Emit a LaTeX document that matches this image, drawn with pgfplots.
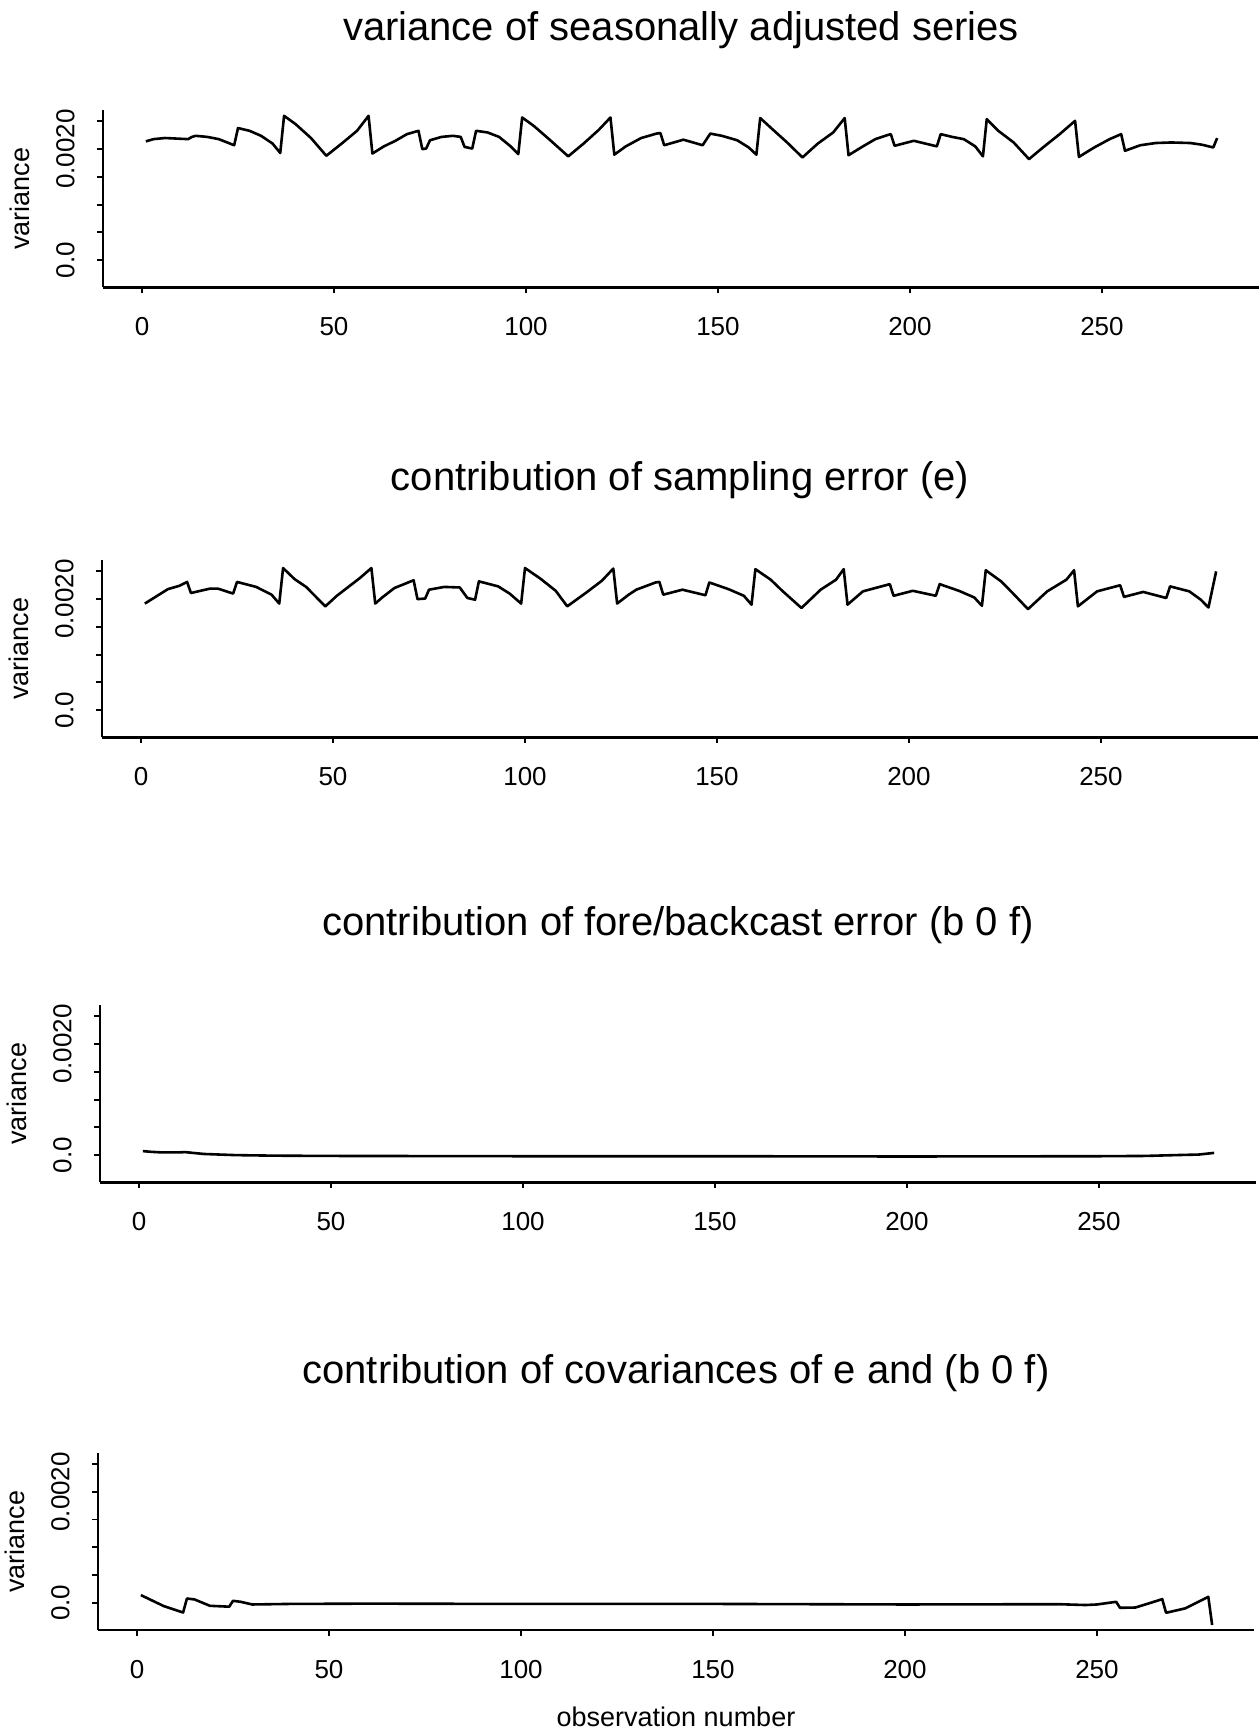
\documentclass[border=0pt]{standalone}
\usepackage{fontspec}
\setmainfont{Liberation Sans}
\usepackage{pgfplots}
\pgfplotsset{compat=1.18}
\newcommand{\tickfont}{\fontsize{13}{15}\selectfont}
\newcommand{\labfont}{\fontsize{13.5}{16}\selectfont}
\newcommand{\titfont}{\fontsize{20}{24}\selectfont}
\pgfplotsset{
  ser/.style={black, line width=1.3pt, mark=none, line join=round},
  panel/.style={
    scale only axis, width=578pt, height=88.5pt,
    xmin=-10.16, xmax=290.9, ymin=-0.00049, ymax=0.0027,
    axis lines=left, axis line style={-, line width=1.4pt},
    xtick={0,50,100,150,200,250}, xticklabels={0,50,100,150,200,250},
    ytick={0,0.0005,0.001,0.0015,0.002,0.0025}, yticklabels={0.0,,,,0.0020,},
    scaled y ticks=false, minor tick num=0,
    tick align=outside, major tick length=3pt,
    tick style={line width=0.9pt, black},
    xticklabel style={font=\tickfont, anchor=north, inner sep=0pt},
    xticklabel shift=12pt,
    yticklabel style={font=\tickfont, rotate=90, anchor=south, inner sep=0pt},
    yticklabel shift=11pt,
    ylabel={variance},
    ylabel style={at={(axis description cs:-0.0721,0.5)}, anchor=center, font=\labfont},
    title style={at={(axis description cs:0.5,1)}, anchor=center, yshift=34pt, font=\titfont},
    clip=false,
  }
}
\begin{document}
\begin{tikzpicture}
\useasboundingbox (0,0) rectangle (629.5pt,865pt);
% Panel 1
\begin{axis}[panel, at={(51.5pt,721.35pt)}, anchor=south west,
  title={variance of seasonally adjusted series}]
\addplot[ser] coordinates {
(1,0.00214)(3,0.00218)(6,0.00220)(9,0.00219)(12,0.00218)(13,0.00222)(14,0.00224)
(17,0.00222)(20,0.00218)(24,0.00207)(25,0.00238)(28,0.00233)(31,0.00224)(34,0.00210)
(36,0.00193)(37,0.00260)(40,0.00245)(44,0.00220)(48,0.00188)(52,0.00210)(56,0.00233)
(59,0.00260)(60,0.00192)(63,0.00205)(66,0.00215)(69,0.00227)(72,0.00233)(73,0.00200)
(74,0.00201)(75,0.00216)(78,0.00222)(81,0.00224)(83,0.00222)(84,0.00204)(86,0.00201)
(87,0.00233)(90,0.00230)(93,0.00222)(96,0.00205)(98,0.00191)(99,0.00257)(102,0.00242)
(106,0.00218)(111,0.00187)(115,0.00210)(119,0.00235)(122,0.00257)(123,0.00190)
(126,0.00205)(130,0.00220)(134,0.00228)(135,0.00229)(136,0.00207)(141,0.00217)
(146,0.00207)(148,0.00228)(151,0.00224)(155,0.00216)(158,0.00203)(160,0.00190)
(161,0.00256)(164,0.00237)(168,0.00212)(172,0.00185)(176,0.00210)(180,0.00230)
(183,0.00256)(184,0.00189)(188,0.00206)(191,0.00218)(194,0.00225)(195,0.00227)
(196,0.00206)(201,0.00215)(207,0.00205)(208,0.00227)(211,0.00222)(214,0.00218)
(217,0.00205)(219,0.00187)(220,0.00254)(223,0.00233)(227,0.00212)(231,0.00182)
(235,0.00205)(239,0.00227)(243,0.00251)(244,0.00186)(248,0.00203)(252,0.00218)
(255,0.00227)(256,0.00197)(260,0.00207)(264,0.00211)(268,0.00212)(273,0.00211)
(276,0.00208)(279,0.00203)(280,0.00220)
};
\end{axis}
% Panel 2
\begin{axis}[panel, at={(51pt,496.35pt)}, anchor=south west,
  title={contribution of sampling error (e)}]
\addplot[ser] coordinates {
(1,0.00192)(4,0.00205)(7,0.00218)(10,0.00224)(12,0.00231)(13,0.00211)(18,0.00219)
(20,0.00219)(24,0.00210)(25,0.00231)(30,0.00222)(34,0.00208)(36,0.00192)(37,0.00256)
(40,0.00236)(43,0.00222)(48,0.00187)(51,0.00206)(57,0.00238)(60,0.00256)(61,0.00192)
(63,0.00204)(66,0.00220)(71,0.00234)(72,0.00200)(74,0.00201)(75,0.00217)(79,0.00222)
(83,0.00221)(85,0.00202)(87,0.00199)(88,0.00232)(93,0.00223)(96,0.00210)(99,0.00192)
(100,0.00256)(104,0.00237)(108,0.00215)(111,0.00187)(116,0.00212)(120,0.00233)
(123,0.00255)(124,0.00192)(127,0.00208)(129,0.00217)(134,0.00230)(135,0.00231)
(136,0.00208)(141,0.00217)(147,0.00207)(148,0.00230)(153,0.00218)(157,0.00206)
(159,0.00190)(160,0.00254)(164,0.00235)(167,0.00215)(172,0.00184)(177,0.00217)
(181,0.00235)(183,0.00254)(184,0.00190)(188,0.00214)(195,0.00227)(196,0.00206)
(201,0.00215)(207,0.00206)(208,0.00227)(213,0.00215)(217,0.00203)(219,0.00188)
(220,0.00252)(224,0.00232)(227,0.00211)(231,0.00182)(236,0.00214)(241,0.00235)
(243,0.00252)(244,0.00187)(249,0.00214)(255,0.00225)(256,0.00204)(261,0.00213)
(267,0.00202)(268,0.00223)(273,0.00214)(276,0.00199)(278,0.00185)(280,0.00250)
};
\end{axis}
% Panel 3
\begin{axis}[panel, at={(50pt,273.85pt)}, anchor=south west,
  title={contribution of fore/backcast error (b 0 f)}]
\addplot[ser] coordinates {
(1,0.000072)(3,0.00006)(6,0.000048)(10,0.000048)(12,0.000054)(14,0.00004)(17,0.00002)
(25,0.0)(35,-0.00001)(50,-0.000015)(100,-0.00002)(150,-0.00002)(200,-0.000025)
(250,-0.00002)(262,-0.000015)(270,0.0)(276,0.00001)(280,0.00004)
};
\end{axis}
% Panel 4
\begin{axis}[panel, at={(49pt,50pt)}, anchor=south west,
  title={contribution of covariances of e and (b 0 f)},
  xlabel={observation number},
  xlabel style={at={(axis description cs:0.5,0)}, anchor=center, yshift=-43.35pt, font=\labfont}]
\addplot[ser] coordinates {
(1,0.000139)(7,-0.00006)(12,-0.000175)(13,0.000078)(15,0.00006)(19,-0.000054)
(24,-0.00007)(25,0.000036)(27,0.000018)(30,-0.00003)(40,-0.00002)(60,-0.000015)
(100,-0.00002)(150,-0.00002)(200,-0.00003)(240,-0.000025)(247,-0.00004)(250,-0.00003)
(255,0.000018)(256,-0.00009)(260,-0.000085)(264,0.0)(267,0.000066)(268,-0.00018)
(273,-0.0001)(279,0.000108)(280,-0.0004)
};
\end{axis}
\end{tikzpicture}
\end{document}
